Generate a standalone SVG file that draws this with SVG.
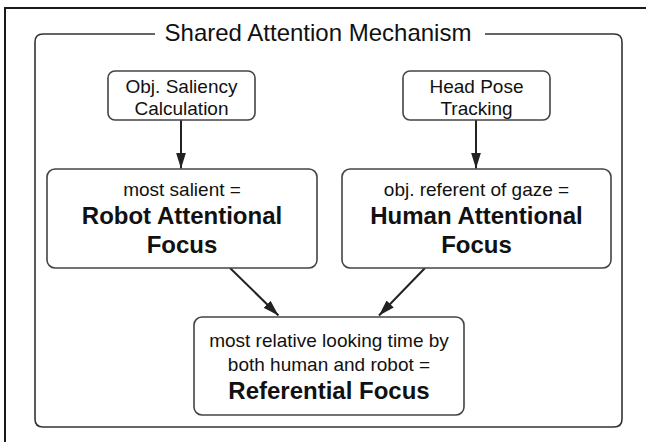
<svg xmlns="http://www.w3.org/2000/svg" width="646" height="442" viewBox="0 0 646 442">
<defs>
<style>
.frame{fill:none;stroke:#1a1a1a;stroke-width:2}
.group{fill:none;stroke:#333;stroke-width:1.6}
.box{fill:#fff;stroke:#444;stroke-width:1.6}
.edge{fill:none;stroke:#222;stroke-width:2}
text{font-family:"Liberation Sans",Arial,Helvetica,sans-serif;fill:#111;text-anchor:middle}
.t{font-size:19px}
.b{font-size:24px;font-weight:bold}
.title{font-size:24px}
</style>
<marker id="ah" viewBox="0 0 16 10" refX="16" refY="5" markerWidth="16" markerHeight="10" markerUnits="userSpaceOnUse" orient="auto">
<path d="M0,0 L16,5 L0,10 Z" fill="#222"/>
</marker>
</defs>
<rect width="646" height="442" fill="#fff"/>
<path class="frame" d="M5,442 V8 H646"/>
<g id="shared-attention-group">
<path class="group" d="M155,34 H43 Q35,34 35,42 V419 Q35,427 43,427 H614 Q622,427 622,419 V42 Q622,34 614,34 H485"/>
<text class="title" x="318" y="41">Shared Attention Mechanism</text>
</g>
<g id="connectors">
<line class="edge" x1="181" y1="120" x2="181" y2="168.5" marker-end="url(#ah)"/>
<line class="edge" x1="476" y1="120" x2="476" y2="168.5" marker-end="url(#ah)"/>
<line class="edge" x1="230" y1="268" x2="278.5" y2="315.5" marker-end="url(#ah)"/>
<line class="edge" x1="425" y1="268" x2="379" y2="315.5" marker-end="url(#ah)"/>
</g>
<g id="saliency">
<rect class="box" x="108" y="71" width="147" height="49" rx="7"/>
<text class="t" x="181.5" y="92.5">Obj. Saliency</text>
<text class="t" x="181.5" y="115">Calculation</text>
</g>
<g id="headpose">
<rect class="box" x="403" y="71" width="147" height="49" rx="7"/>
<text class="t" x="476.5" y="92.5">Head Pose</text>
<text class="t" x="476.5" y="115">Tracking</text>
</g>
<g id="robot-focus">
<rect class="box" x="47" y="169" width="270" height="99" rx="8"/>
<text class="t" x="182" y="196">most salient =</text>
<text class="b" x="182" y="224">Robot Attentional</text>
<text class="b" x="182" y="253">Focus</text>
</g>
<g id="human-focus">
<rect class="box" x="342" y="169" width="269" height="99" rx="8"/>
<text class="t" x="476.5" y="196">obj. referent of gaze =</text>
<text class="b" x="476.5" y="224">Human Attentional</text>
<text class="b" x="476.5" y="253">Focus</text>
</g>
<g id="referential-focus">
<rect class="box" x="194" y="317" width="270" height="98" rx="8"/>
<text class="t" x="329" y="347">most relative looking time by</text>
<text class="t" x="329" y="370.5">both human and robot =</text>
<text class="b" x="329" y="398.5">Referential Focus</text>
</g>
</svg>
